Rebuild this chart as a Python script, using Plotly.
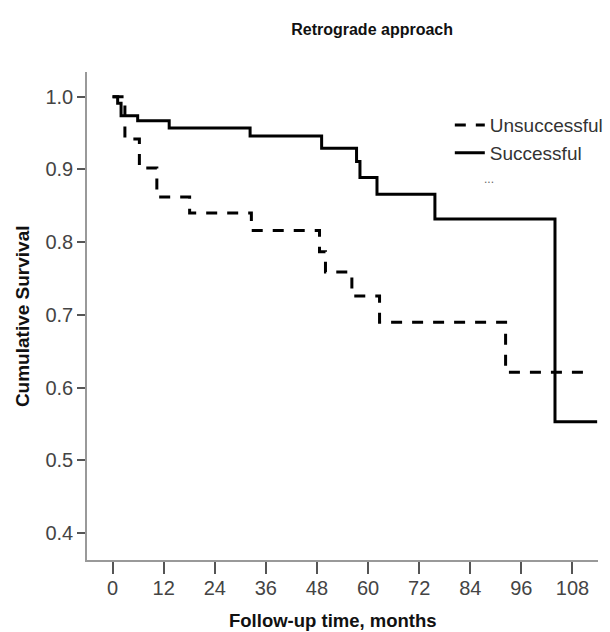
import plotly.graph_objects as go

# Kaplan-Meier step data (months, cumulative survival)
succ_time = [0, 1.2, 2.0, 5.9, 13.3, 32.3, 49.1, 57.3, 58.1, 62.1, 75.7, 103.9, 113.8]
succ_surv = [1.0, 0.991, 0.974, 0.967, 0.957, 0.946, 0.929, 0.911, 0.889, 0.866, 0.832, 0.553, 0.553]

uns_time = [0, 2.9, 6.3, 10.4, 18.1, 32.6, 48.6, 50.0, 56.2, 62.7, 92.3, 112.3]
uns_surv = [1.0, 0.942, 0.902, 0.862, 0.840, 0.816, 0.787, 0.759, 0.726, 0.690, 0.621, 0.621]

x_ticks = [0, 12, 24, 36, 48, 60, 72, 84, 96, 108]
y_ticks = [0.4, 0.5, 0.6, 0.7, 0.8, 0.9, 1.0]

FONT = "Liberation Sans, Arial, sans-serif"

fig = go.Figure()
fig.add_trace(go.Scatter(
    x=uns_time, y=uns_surv, mode="lines", name="Unsuccessful",
    line=dict(shape="hv", color="black", width=3, dash="11px,10px"),
))
fig.add_trace(go.Scatter(
    x=succ_time, y=succ_surv, mode="lines", name="Successful",
    line=dict(shape="hv", color="black", width=3),
))

fig.update_layout(
    width=610, height=632,
    margin=dict(l=87, r=12, t=72, b=72, autoexpand=False),
    paper_bgcolor="white", plot_bgcolor="white",
    font=dict(family=FONT, color="#222"),
    title=dict(text="<b>Retrograde approach</b>", x=0.61, xanchor="center",
               y=0.953, yanchor="middle", font=dict(size=16, color="#111")),
    showlegend=True,
    legend=dict(x=0.71, y=0.93, xanchor="left", yanchor="top",
                font=dict(size=19, color="#333"), bgcolor="rgba(0,0,0,0)",
                itemwidth=30, tracegroupgap=0),
    annotations=[
        dict(text="...", x=0.80, y=0.80, xref="paper", yref="paper",
             showarrow=False, font=dict(size=12, color="#666")),
        dict(text="<b>Follow-up time, months</b>", x=0.481, y=-0.123,
             xref="paper", yref="paper", xanchor="center", yanchor="middle",
             showarrow=False, font=dict(size=18.5, color="#111")),
        dict(text="<b>Cumulative Survival</b>", x=-0.127, y=0.5, textangle=-90,
             xref="paper", yref="paper", xanchor="center", yanchor="middle",
             showarrow=False, font=dict(size=19, color="#111")),
    ],
)
fig.update_xaxes(
    range=[-6, 114], tickvals=x_ticks, ticktext=[str(v) for v in x_ticks],
    showline=True, linecolor="#999", linewidth=1.5, mirror=False,
    ticks="outside", ticklen=12, tickwidth=2, tickcolor="#555",
    ticklabelstandoff=-3,
    showgrid=False, zeroline=False,
    tickfont=dict(size=20, color="#444"),
)
fig.update_yaxes(
    range=[0.363, 1.034], tickvals=y_ticks, ticktext=[f"{v:.1f}" for v in y_ticks],
    showline=True, linecolor="#999", linewidth=1.5, mirror=False,
    ticks="outside", ticklen=8, tickwidth=2, tickcolor="#555",
    showgrid=False, zeroline=False,
    tickfont=dict(size=20, color="#444"),
)

fig.write_html("out.html")
